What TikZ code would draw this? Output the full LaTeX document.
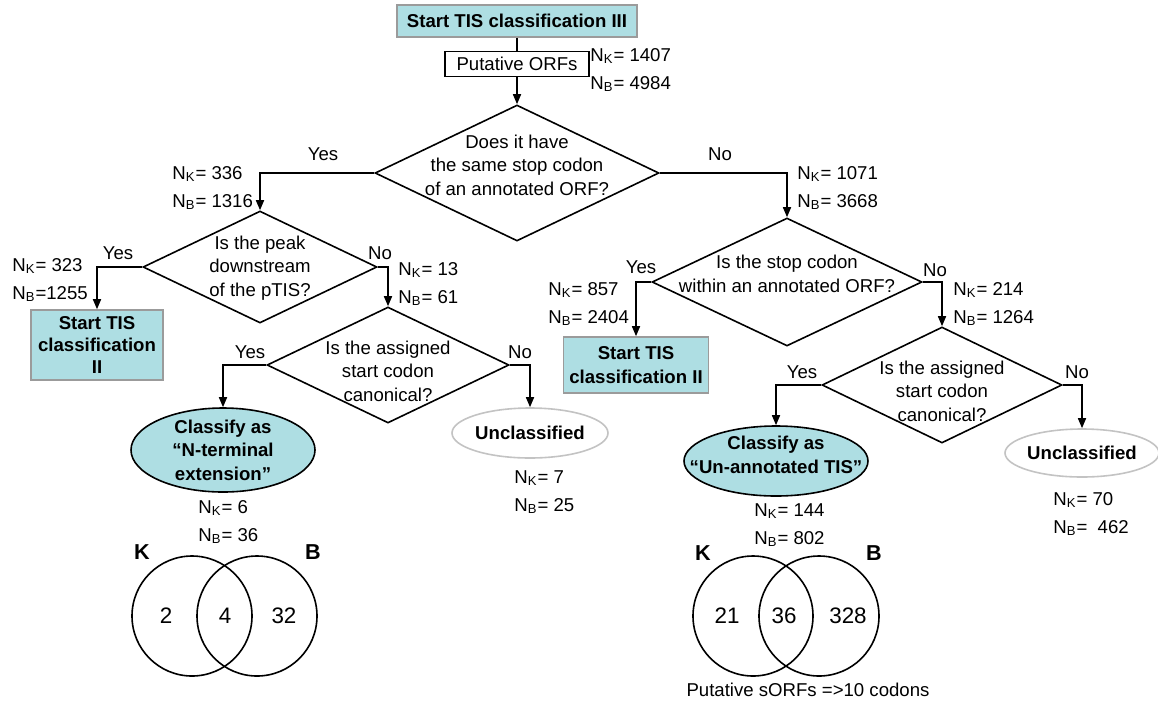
\documentclass[tikz,border=0pt]{standalone}
\usepackage{fontspec}
\setmainfont{Liberation Sans}
\usetikzlibrary{shapes.geometric,arrows.meta}

\definecolor{tiscyan}{RGB}{174,222,227}
\definecolor{boxgray}{RGB}{155,155,155}
\definecolor{ovalgray}{RGB}{195,195,195}

\tikzset{
	txt/.style = {font=\fontsize{9.3}{11.8}\selectfont, inner sep=0pt, align=center},
	cnt/.style = {txt, align=left, anchor=west},
	bold/.style = {txt, font=\fontsize{9.3}{11.8}\selectfont\bfseries},
	vnum/.style = {txt, font=\fontsize{11.2}{13}\selectfont},
	vset/.style = {txt, font=\fontsize{10.8}{13}\selectfont\bfseries},
	startbox/.style = {draw=boxgray, fill=tiscyan, line width=0.8pt, inner sep=1pt},
	orfbox/.style = {draw, line width=0.7pt, inner sep=1pt},
	question/.style = {diamond, draw, line width=0.8pt, inner sep=0pt},
	classoval/.style = {ellipse, draw, fill=tiscyan, line width=0.8pt, inner sep=0pt},
	unclassoval/.style = {ellipse, draw=ovalgray, line width=0.8pt, inner sep=0pt},
	venn/.style = {circle, draw, line width=0.8pt, minimum size=60pt, inner sep=0pt},
	conn/.style = {line width=0.8pt},
	arr/.style = {conn, -{Triangle[length=5pt,width=4pt]}}
}

\newcommand{\nkb}[2]{N\textsubscript{K}= #1\\[2.2pt]N\textsubscript{B}#2}

\begin{document}
\begin{tikzpicture}[x=0.5pt, y=-0.5pt]
	\useasboundingbox (0,0) rectangle (1158,709);

	% top
	\node[startbox, bold, minimum width=120pt, minimum height=16pt] (start) at (517,21) {Start TIS classification III};
	\node[orfbox, txt, minimum width=72pt, minimum height=12.5pt] (orf) at (517,64) {Putative ORFs};
	\node[cnt] (c0) at (590,70) {\nkb{1407}{= 4984}};

	\node[question, minimum width=142pt, minimum height=68pt] (q1) at (517,173) {};
	\node[txt] (q1t) at (517,165) {Does it have\\the same stop codon\\of an annotated ORF?};

	% left branch
	\node[question, minimum width=117pt, minimum height=56pt] (q2) at (260,267) {};
	\node[txt] (q2t) at (260,268) {Is the peak\\downstream\\of the pTIS?};

	\node[startbox, bold, minimum width=66pt, minimum height=35pt, font=\fontsize{9.3}{11}\selectfont\bfseries] (tis2a) at (97,345) {Start TIS\\classification\\II};

	\node[question, minimum width=121pt, minimum height=58pt] (q3) at (388,365) {};
	\node[txt] (q3t) at (388,371) {Is the assigned\\start codon\\canonical?};

	\node[classoval, minimum width=92pt, minimum height=42pt] (nterm) at (223,450) {};
	\node[bold] (ntermt) at (223,450) {Classify as\\``N-terminal\\extension''};
	\node[unclassoval, minimum width=78pt, minimum height=25pt] (uncl1) at (530,433) {};
	\node[bold] (uncl1t) at (530,433) {Unclassified};

	% right branch
	\node[question, minimum width=135pt, minimum height=64pt] (q4) at (787,282) {};
	\node[txt] (q4t) at (787,274) {Is the stop codon\\within an annotated ORF?};

	\node[startbox, bold, minimum width=72.5pt, minimum height=28pt] (tis2b) at (636,365) {Start TIS\\classification II};

	\node[question, minimum width=120pt, minimum height=58pt] (q5) at (942,385) {};
	\node[txt] (q5t) at (942,391) {Is the assigned\\start codon\\canonical?};

	\node[classoval, minimum width=92pt, minimum height=35pt] (unann) at (776,461) {};
	\node[bold] (unannt) at (776,455) {Classify as\\``Un-annotated TIS''};
	\node[unclassoval, minimum width=77pt, minimum height=24pt] (uncl2) at (1082,453) {};
	\node[bold] (uncl2t) at (1082,453) {Unclassified};

	% yes / no
	\node[txt] (y1) at (323,154) {Yes};
	\node[txt] (n1) at (720,154) {No};
	\node[txt] (y2) at (118,253) {Yes};
	\node[txt] (n2) at (380,253) {No};
	\node[txt] (y3) at (250,352) {Yes};
	\node[txt] (n3) at (520,352) {No};
	\node[txt] (y4) at (641,267) {Yes};
	\node[txt] (n4) at (935,270) {No};
	\node[txt] (y5) at (802,372) {Yes};
	\node[txt] (n5) at (1077,372) {No};

	% counts
	\node[cnt] (c1) at (172,188) {\nkb{336}{= 1316}};
	\node[cnt] (c2) at (12,280) {\nkb{323}{=1255}};
	\node[cnt] (c3) at (398,284) {\nkb{13}{= 61}};
	\node[cnt] (c4) at (797,188) {\nkb{1071}{= 3668}};
	\node[cnt] (c5) at (548,304) {\nkb{857}{= 2404}};
	\node[cnt] (c6) at (953,304) {\nkb{214}{= 1264}};
	\node[cnt] (c7) at (198,522) {\nkb{6}{= 36}};
	\node[cnt] (c8) at (514,492) {\nkb{7}{= 25}};
	\node[cnt] (c9) at (754,525) {\nkb{144}{= 802}};
	\node[cnt] (c10) at (1053,514) {\nkb{70}{=\ \ 462}};

	% connectors
	\draw[conn] (start.south) -- (orf.north);
	\draw[arr] (orf.south) -- (q1.north);
	\draw[arr] (q1.west) -| (q2.north);
	\draw[arr] (q1.east) -| (q4.north);
	\draw[arr] (q2.west) -| (tis2a.north);
	\draw[arr] (q2.east) -| (q3.north);
	\draw[arr] (q3.west) -| (nterm.north);
	\draw[arr] (q3.east) -| (uncl1.north);
	\draw[arr] (q4.west) -| (tis2b.north);
	\draw[arr] (q4.east) -| (q5.north);
	\draw[arr] (q5.west) -| (unann.north);
	\draw[arr] (q5.east) -| (uncl2.north);

	% venn diagrams
	\node[venn] (k1) at (192,616) {};
	\node[venn] (b1) at (257,616) {};
	\node[vset] (k1l) at (142,552) {K};
	\node[vset] (b1l) at (313,552) {B};
	\node[vnum] (k1n) at (166,616) {2};
	\node[vnum] (kb1n) at (225,616) {4};
	\node[vnum] (b1n) at (284,616) {32};

	\node[venn] (k2) at (753,616) {};
	\node[venn] (b2) at (819,616) {};
	\node[vset] (k2l) at (703,553) {K};
	\node[vset] (b2l) at (874,553) {B};
	\node[vnum] (k2n) at (727,616) {21};
	\node[vnum] (kb2n) at (784,616) {36};
	\node[vnum] (b2n) at (848,616) {328};
	\node[txt] (sorf) at (808,690) {Putative sORFs =>10 codons};

\end{tikzpicture}
\end{document}
